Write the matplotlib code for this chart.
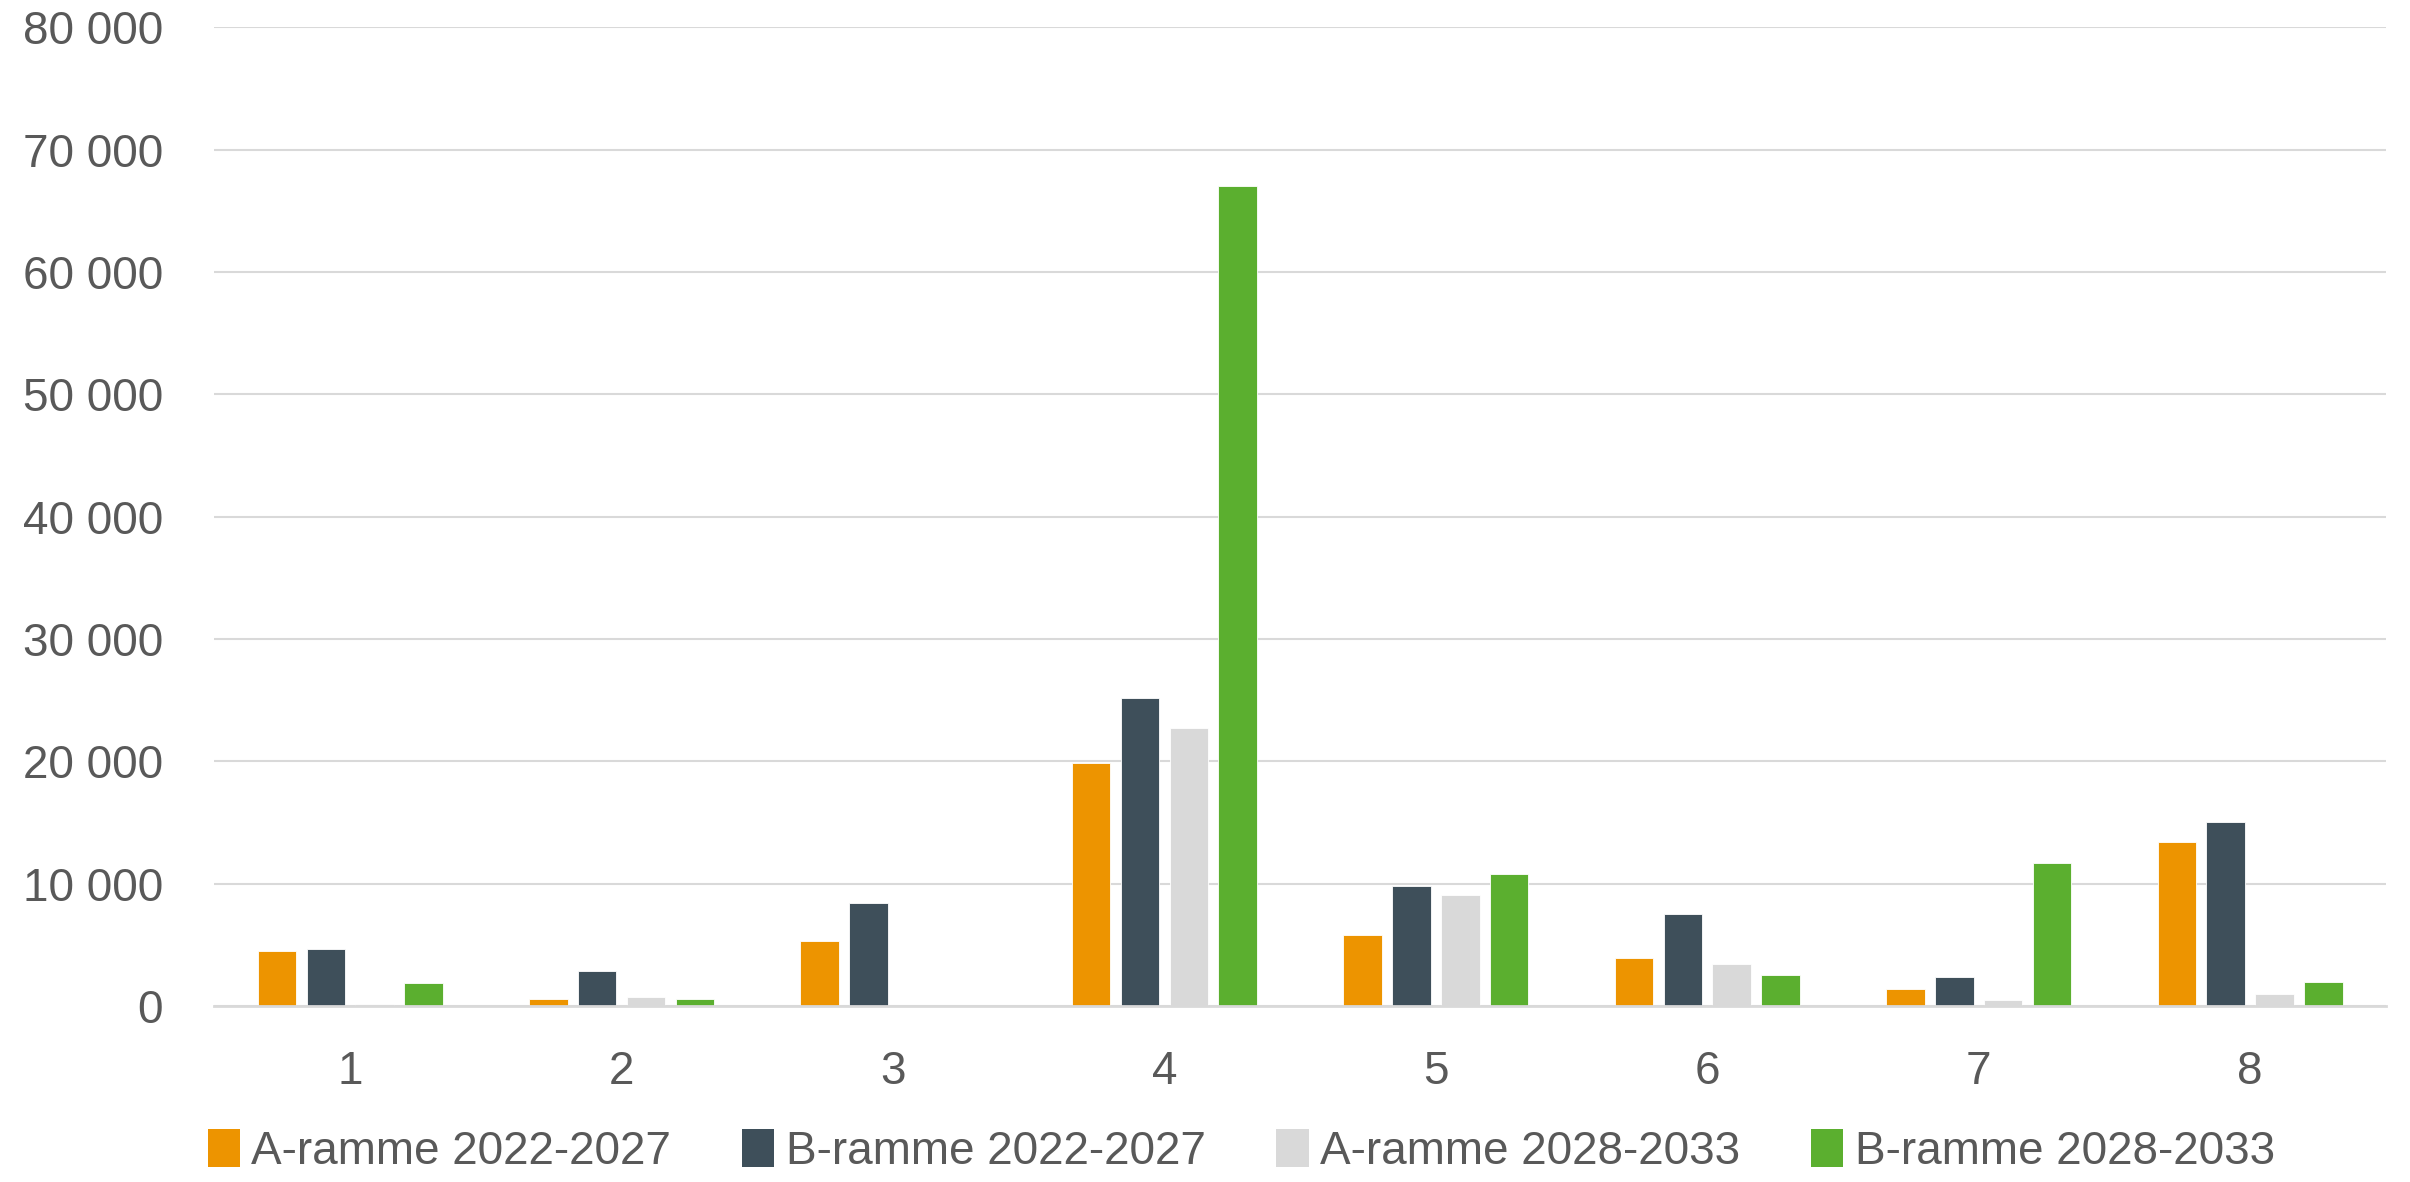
import matplotlib
matplotlib.use("Agg")
import matplotlib.pyplot as plt
import numpy as np
from matplotlib.patches import Patch
from matplotlib.ticker import FuncFormatter

categories = ["1", "2", "3", "4", "5", "6", "7", "8"]
a_2022 = [4500, 570, 5310, 19870, 5830, 3950, 1410, 13430]
b_2022 = [4660, 2890, 8420, 25130, 9840, 7470, 2340, 14990]
a_2028 = [150, 710, 0, 22730, 9100, 3460, 440, 1000]
b_2028 = [1880, 540, 0, 67000, 10740, 2500, 11690, 1960]
series_names = ["A-ramme 2022-2027", "B-ramme 2022-2027", "A-ramme 2028-2033", "B-ramme 2028-2033"]
colors = ["#ED9400", "#3E4F5A", "#D9D9D9", "#5BAF2F"]

plt.rcParams['font.family'] = ['Liberation Sans', 'DejaVu Sans']
text_color = "#595959"

fig = plt.figure(figsize=(24.10, 11.82), dpi=100)
ax = fig.add_axes([0.089, 0.149, 0.901, 0.828])

x = np.arange(len(categories))
w = 0.142
pitch = 0.18
all_series = [a_2022, b_2022, a_2028, b_2028]
for i, (vals, c) in enumerate(zip(all_series, colors)):
    offs = (i - 1.5) * pitch
    ax.bar(x + offs, vals, width=w, color=c, edgecolor="white", linewidth=0.6, zorder=3)

ax.set_xlim(-0.5, len(categories) - 0.5)
ax.set_ylim(0, 80000)
ax.set_yticks(np.arange(0, 80001, 10000))
ax.yaxis.set_major_formatter(FuncFormatter(lambda v, p: f"{int(v):,}".replace(",", " ")))
ax.set_xticks(x)
ax.set_xticklabels(categories)
ax.grid(axis="y", color="#D9D9D9", linewidth=1.5, zorder=0)
for s in ["top", "right", "left"]:
    ax.spines[s].set_visible(False)
ax.spines["bottom"].set_color("#D9D9D9")
ax.spines["bottom"].set_linewidth(2.0)
ax.spines["bottom"].set_zorder(4)
ax.tick_params(axis="both", length=0, labelsize=33, colors=text_color)
ax.tick_params(axis="y", pad=37)
ax.tick_params(axis="x", pad=32)

handles = [Patch(facecolor=c, edgecolor="none") for c in colors]
leg = fig.legend(handles, series_names, loc="lower center", bbox_to_anchor=(0.515, -0.028),
                 ncol=4, frameon=False, fontsize=33, handlelength=0.7, handleheight=0.9,
                 handletextpad=0.25, columnspacing=1.55, labelcolor=text_color)

fig.savefig("out.png", dpi=100, facecolor="white")
